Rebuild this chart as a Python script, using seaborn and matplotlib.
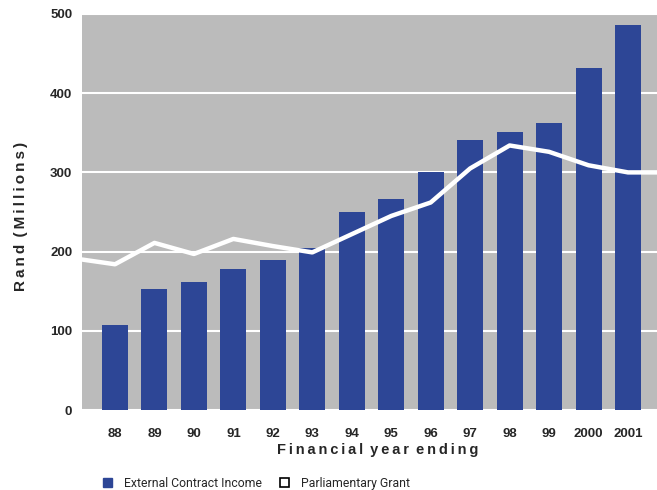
import numpy as np
import pandas as pd
import seaborn as sns
import matplotlib
matplotlib.use("Agg")
import matplotlib.pyplot as plt
from matplotlib.patches import Patch

# Financial years and values (Rand millions)
years = ["88", "89", "90", "91", "92", "93", "94", "95", "96", "97", "98", "99", "2000", "2001"]
external_income = [107, 153, 162, 178, 189, 204, 250, 266, 301, 341, 351, 362, 432, 486]
parliamentary_grant = [184, 211, 197, 216, 207, 199, 222, 245, 262, 305, 334, 326, 309, 300]
grant_lead_in = 190    # grant value where the line enters the plot
grant_lead_out = 300   # grant value where the line leaves the plot

y_ticks = [0, 100, 200, 300, 400, 500]

BLUE = "#2D4696"
GREY = "#BBBBBB"
BOLD_FONT = "Liberation Sans"


def spaced(text, gap="\u2009"):
    """Letter-spaced caption using narrow spaces between glyphs."""
    return (gap + " ").join(gap.join(word) for word in text.split(" "))


sns.set_theme(style="white")
plt.rcParams["font.family"] = [BOLD_FONT, "DejaVu Sans"]

fig = plt.figure(figsize=(6.57, 4.90), dpi=100)
ax = fig.add_axes([82 / 657, 80 / 490, 1 - 82 / 657, 396 / 490])
ax.set_facecolor(GREY)

df = pd.DataFrame({"year": years, "income": external_income})
sns.barplot(data=df, x="year", y="income", color=BLUE, saturation=1,
            width=0.66, linewidth=0, edgecolor=BLUE, ax=ax, zorder=2)

x_lo, x_hi = -0.836, 13.735
xs = [x_lo] + list(range(len(years))) + [x_hi]
ys = [grant_lead_in] + parliamentary_grant + [grant_lead_out]
line_df = pd.DataFrame({"x": xs, "grant": ys})
sns.lineplot(data=line_df, x="x", y="grant", color="white", linewidth=3.2,
             ax=ax, zorder=3, sort=False)

ax.set_xlim(x_lo, x_hi)
ax.set_ylim(0, 500)
ax.set_yticks(y_ticks)
ax.set_yticklabels([str(v) for v in y_ticks], fontsize=9.5, fontweight="bold")
ax.set_xticks(range(len(years)))
ax.set_xticklabels(years, fontsize=9.5, fontweight="bold")
ax.tick_params(axis="both", length=0)
ax.tick_params(axis="y", pad=7)
ax.tick_params(axis="x", pad=13)
ax.yaxis.grid(True, color="white", linewidth=1.5, zorder=1)
ax.set_axisbelow(True)
for s in ax.spines.values():
    s.set_visible(False)

ax.set_xlabel(spaced("Financial year ending"), fontsize=10.5,
              fontweight="bold")
ax.xaxis.set_label_coords((378 - 82) / (657 - 82), -0.083)
ax.set_ylabel(spaced("Rand (Millions)"), fontsize=11, fontweight="bold")
ax.yaxis.set_label_coords(-0.094, 0.49)

handles = [
    Patch(facecolor=BLUE, edgecolor=BLUE, label="External Contract Income"),
    Patch(facecolor="white", edgecolor="black", linewidth=1.2, label="Parliamentary Grant"),
]
fig.legend(handles=handles, loc="center left", bbox_to_anchor=(92 / 657, 7 / 490),
           ncol=2, frameon=False, handlelength=0.75, handleheight=0.75,
           handletextpad=1.0, columnspacing=1.4,
           prop={"family": "Roboto", "size": 8.8})

fig.savefig("out.png", dpi=100)
